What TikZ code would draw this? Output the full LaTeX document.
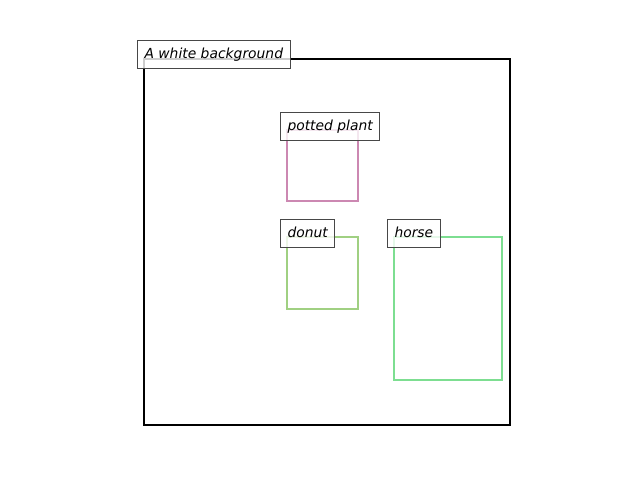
\documentclass[tikz,border=0pt]{standalone}
\usepackage{fontspec}
\setmainfont{DejaVu Sans}
\begin{document}
\begin{tikzpicture}[x=0.75pt,y=-0.75pt,
  framebox/.style={draw=black,line width=1.6pt},
  objbox/.style={line width=1.6pt},
  tag/.style={draw=black!72,line width=0.75pt,fill=white,fill opacity=0.8,
    text opacity=1,anchor=west,minimum height=21pt,inner xsep=5.25pt,
    inner ysep=0pt,text height=0.82em,text depth=0.2em,
    font=\fontsize{10.4}{12}\selectfont\itshape}]
\definecolor{plantc}{RGB}{204,136,178}
\definecolor{donutc}{RGB}{160,208,130}
\definecolor{horsec}{RGB}{125,222,145}
\useasboundingbox (0,0) rectangle (640,480);
% scene frame
\draw[framebox] (144,59) rectangle (510,425);
% object boxes
\draw[objbox,draw=plantc] (287,130) rectangle (358,201);
\draw[objbox,draw=donutc] (287,237) rectangle (358,309);
\draw[objbox,draw=horsec] (394,237) rectangle (502,380);
% labels
\node[tag] (bg) at (137,54) {A white background};
\node[tag] (plant) at (280,126) {potted plant};
\node[tag] (donut) at (280,233) {donut};
\node[tag] (horse) at (387,233) {horse};
\end{tikzpicture}
\end{document}
